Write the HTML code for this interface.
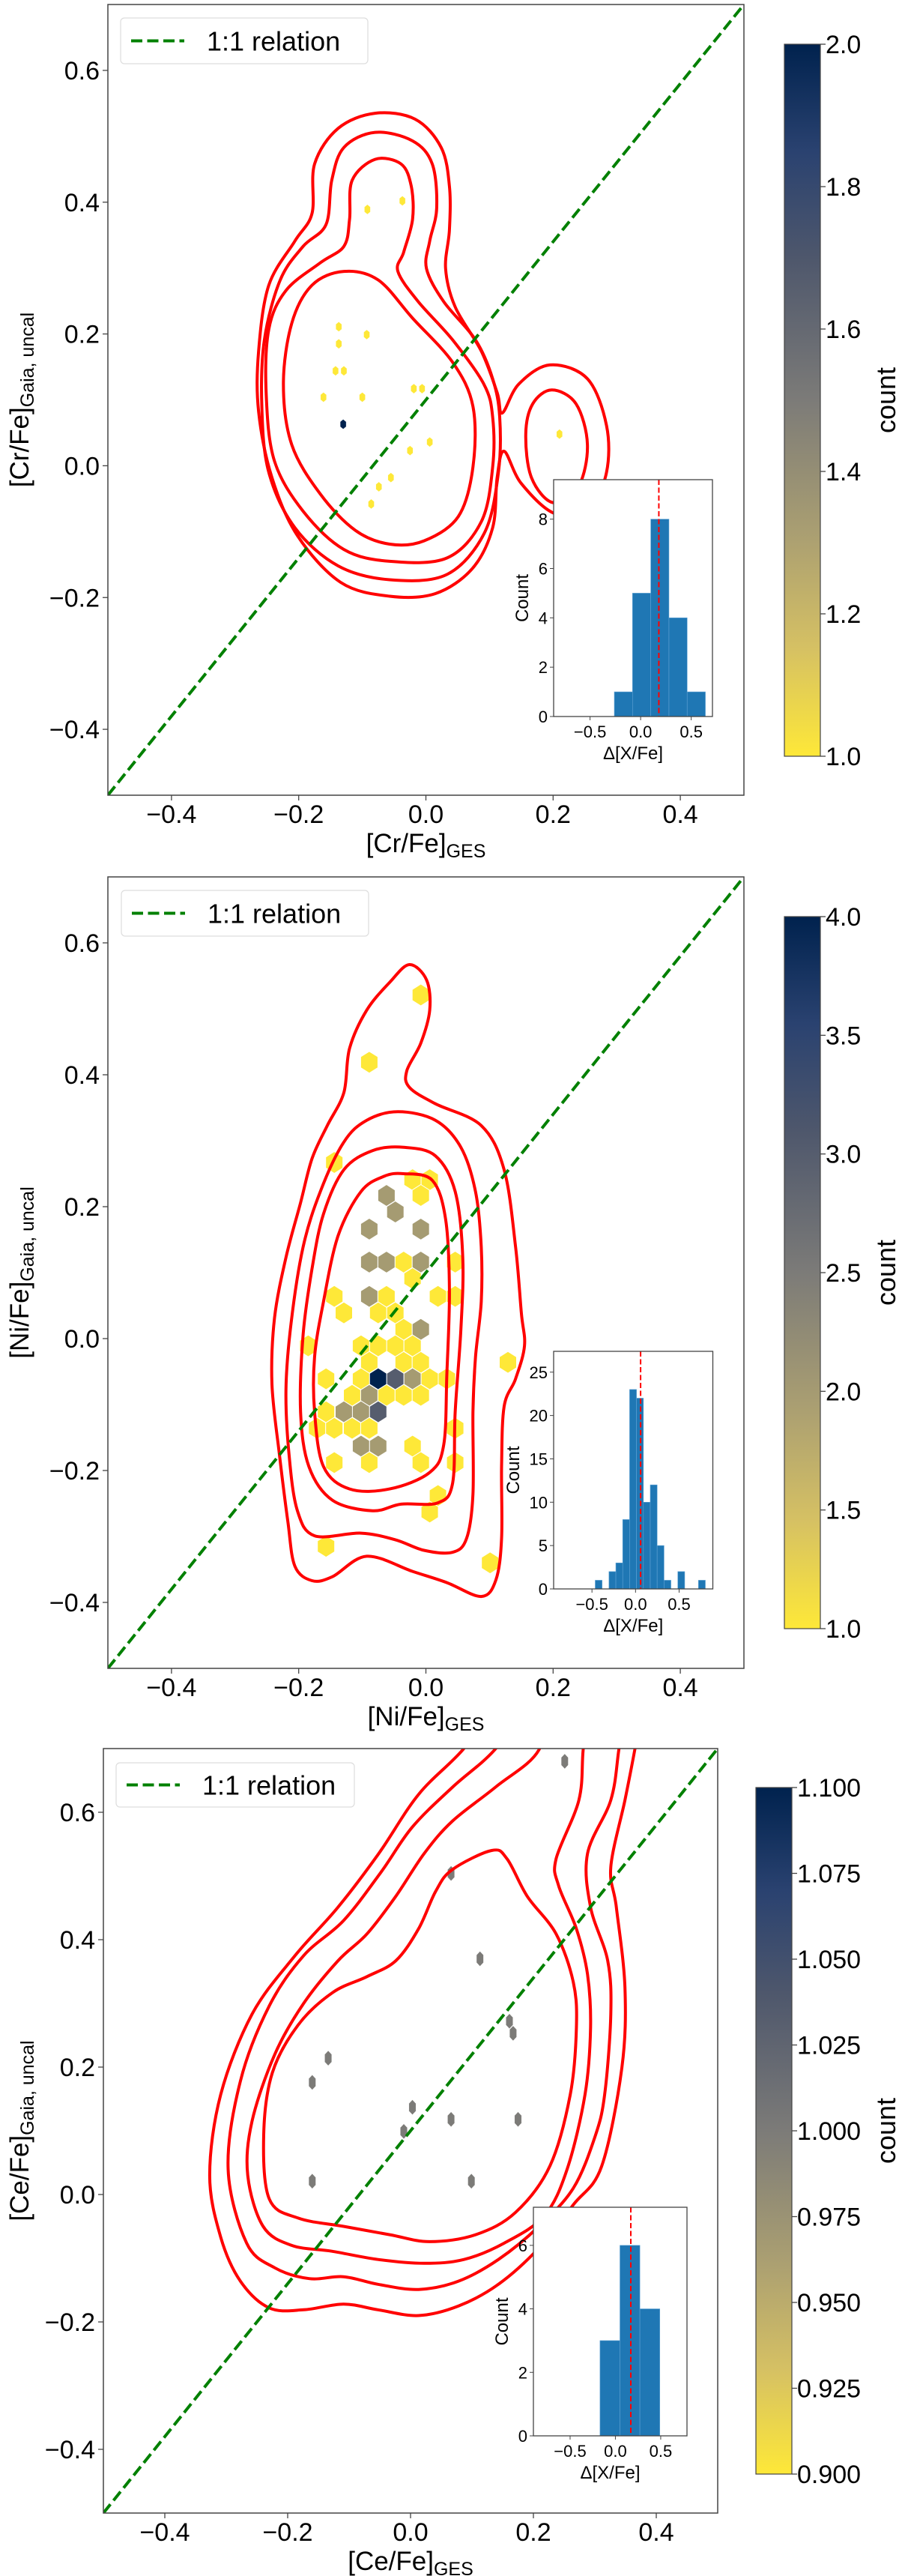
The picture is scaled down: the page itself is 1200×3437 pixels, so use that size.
<!DOCTYPE html>
<html><head><meta charset="utf-8"><style>
html,body{margin:0;padding:0;background:#fff}
svg{display:block}
text{font-family:"Liberation Sans","DejaVu Sans",sans-serif;fill:#000}
</style></head><body>
<svg id="fig" xmlns="http://www.w3.org/2000/svg" width="1200" height="3437" viewBox="0 0 1200 3437">
<defs>
<linearGradient id="cbgrad" x1="0" y1="0" x2="0" y2="1">
<stop offset="0" stop-color="#00224e"/><stop offset="0.15" stop-color="#2a4270"/><stop offset="0.3" stop-color="#4e576c"/><stop offset="0.5" stop-color="#7c7b78"/><stop offset="0.7" stop-color="#ada171"/><stop offset="0.85" stop-color="#d6c163"/><stop offset="1" stop-color="#fee838"/>
</linearGradient>
</defs>
</svg>
<script>
// ---------- Panel 1 data: [Cr/Fe] ----------
const p1HexX=[-0.092,-0.037,-0.137,-0.137,-0.093,-0.142,-0.129,-0.161,-0.100,-0.019,-0.006,-0.130,0.006,-0.025,-0.055,-0.074,-0.086,0.210];
const p1HexY=[0.389,0.402,0.211,0.185,0.199,0.144,0.144,0.104,0.104,0.117,0.117,0.063,0.036,0.023,-0.018,-0.032,-0.058,0.048];
const p1HexCount=[1,1,1,1,1,1,1,1,1,1,1,2,1,1,1,1,1,1];
const p1ContourA=[[-0.080,0.535],[-0.017,0.526],[0.024,0.483],[0.037,0.424],[0.037,0.358],[0.031,0.299],[0.046,0.241],[0.087,0.174],[0.112,0.111],[0.120,0.080],[0.146,0.124],[0.195,0.153],[0.254,0.132],[0.284,0.061],[0.284,-0.010],[0.258,-0.060],[0.204,-0.073],[0.150,-0.027],[0.123,0.022],[0.112,-0.018],[0.105,-0.094],[0.073,-0.156],[0.015,-0.194],[-0.057,-0.198],[-0.134,-0.177],[-0.202,-0.106],[-0.242,-0.018],[-0.263,0.082],[-0.263,0.174],[-0.247,0.274],[-0.206,0.341],[-0.179,0.383],[-0.175,0.458],[-0.138,0.512]];
const p1ContourB=[[-0.080,0.506],[-0.021,0.493],[0.010,0.458],[0.017,0.391],[0.006,0.341],[0.001,0.299],[0.028,0.249],[0.078,0.191],[0.105,0.132],[0.116,0.074],[0.114,-0.010],[0.092,-0.102],[0.033,-0.165],[-0.057,-0.173],[-0.138,-0.152],[-0.206,-0.094],[-0.247,-0.010],[-0.258,0.090],[-0.254,0.191],[-0.229,0.282],[-0.193,0.333],[-0.157,0.366],[-0.148,0.433],[-0.129,0.483]];
const p1ContourB2=[[0.198,0.115],[0.236,0.094],[0.254,0.032],[0.240,-0.031],[0.200,-0.056],[0.166,-0.018],[0.157,0.048],[0.168,0.094]];
const p1ContourC=[[-0.080,0.465],[-0.039,0.458],[-0.023,0.424],[-0.021,0.374],[-0.035,0.324],[-0.044,0.295],[-0.012,0.249],[0.042,0.191],[0.091,0.124],[0.105,0.074],[0.105,-0.002],[0.087,-0.085],[0.033,-0.140],[-0.057,-0.145],[-0.129,-0.127],[-0.193,-0.069],[-0.238,0.007],[-0.251,0.107],[-0.247,0.207],[-0.220,0.266],[-0.166,0.308],[-0.129,0.333],[-0.120,0.374],[-0.116,0.433]];
const p1ContourD=[[-0.129,0.295],[-0.075,0.282],[-0.021,0.224],[0.042,0.157],[0.074,0.090],[0.074,-0.002],[0.051,-0.077],[-0.003,-0.114],[-0.057,-0.119],[-0.111,-0.098],[-0.166,-0.043],[-0.211,0.032],[-0.224,0.124],[-0.211,0.216],[-0.179,0.274]];
const p1HistEdges=[-0.26,-0.08,0.10,0.28,0.46,0.64];
const p1HistCounts=[1,5,8,4,1];
const p1Median=0.18;
const p1CbTicks=["1.0","1.2","1.4","1.6","1.8","2.0"];
const p1InsetYTicks=[0,2,4,6,8];

// ---------- Panel 2 data: [Ni/Fe] ----------
const p2HexX=[-0.008,-0.089,-0.144,-0.021,0.006,-0.008,-0.062,-0.048,-0.089,-0.008,-0.089,-0.062,-0.035,-0.008,0.046,-0.021,-0.144,-0.089,-0.062,0.019,0.046,-0.129,-0.075,-0.048,-0.035,-0.008,-0.185,-0.102,-0.075,-0.048,-0.021,0.129,-0.089,-0.035,-0.008,-0.157,-0.102,-0.075,-0.048,-0.021,0.006,0.033,-0.116,-0.089,-0.062,-0.035,-0.008,-0.157,-0.129,-0.102,-0.075,-0.171,-0.144,-0.116,-0.089,0.046,-0.102,-0.075,-0.021,-0.144,-0.089,-0.008,0.046,0.019,0.006,-0.157,0.101];
const p2HexY=[0.521,0.419,0.267,0.241,0.241,0.217,0.217,0.192,0.166,0.166,0.116,0.116,0.116,0.116,0.116,0.091,0.064,0.064,0.064,0.064,0.064,0.039,0.039,0.039,0.014,0.014,-0.011,-0.011,-0.011,-0.011,-0.011,-0.036,-0.036,-0.036,-0.036,-0.061,-0.061,-0.061,-0.061,-0.061,-0.061,-0.061,-0.086,-0.086,-0.086,-0.086,-0.086,-0.111,-0.111,-0.111,-0.111,-0.136,-0.136,-0.136,-0.136,-0.136,-0.163,-0.163,-0.163,-0.188,-0.188,-0.188,-0.188,-0.238,-0.263,-0.315,-0.340];
const p2HexCount=[1,1,1,1,1,1,2,2,2,2,2,2,1,2,1,1,1,2,1,1,1,1,1,1,1,2,1,1,1,1,1,1,1,1,1,1,1,4,3,2,1,1,1,2,1,1,1,1,2,2,3,1,1,1,1,1,2,2,1,1,1,1,1,1,1,1,1];
const p2ContourA=[[-0.026,0.567],[0.001,0.544],[0.006,0.498],[-0.008,0.448],[-0.030,0.406],[-0.026,0.381],[0.015,0.356],[0.087,0.323],[0.123,0.256],[0.141,0.139],[0.150,0.039],[0.155,-0.011],[0.141,-0.061],[0.123,-0.103],[0.119,-0.194],[0.119,-0.303],[0.110,-0.366],[0.087,-0.391],[0.033,-0.370],[-0.021,-0.353],[-0.093,-0.330],[-0.147,-0.361],[-0.179,-0.367],[-0.206,-0.345],[-0.217,-0.278],[-0.230,-0.178],[-0.242,-0.069],[-0.238,0.031],[-0.220,0.123],[-0.197,0.206],[-0.179,0.273],[-0.155,0.323],[-0.129,0.373],[-0.120,0.440],[-0.093,0.498],[-0.057,0.540]];
const p2ContourB=[[-0.044,0.344],[0.015,0.331],[0.055,0.290],[0.078,0.223],[0.087,0.139],[0.087,0.056],[0.078,-0.028],[0.074,-0.111],[0.074,-0.236],[0.064,-0.303],[0.042,-0.324],[-0.003,-0.321],[-0.048,-0.305],[-0.102,-0.295],[-0.175,-0.299],[-0.202,-0.261],[-0.215,-0.178],[-0.220,-0.078],[-0.212,0.023],[-0.193,0.139],[-0.166,0.223],[-0.129,0.298],[-0.093,0.331]];
const p2ContourC=[[-0.035,0.290],[0.015,0.277],[0.046,0.223],[0.058,0.123],[0.055,0.014],[0.046,-0.111],[0.042,-0.219],[0.019,-0.249],[-0.039,-0.251],[-0.084,-0.261],[-0.147,-0.245],[-0.184,-0.194],[-0.197,-0.111],[-0.193,0.006],[-0.179,0.106],[-0.161,0.189],[-0.129,0.256],[-0.084,0.285]];
const p2ContourD=[[-0.035,0.250],[0.010,0.240],[0.031,0.181],[0.037,0.073],[0.033,-0.053],[0.028,-0.161],[0.006,-0.203],[-0.057,-0.228],[-0.120,-0.228],[-0.161,-0.194],[-0.175,-0.111],[-0.175,-0.028],[-0.161,0.056],[-0.138,0.156],[-0.102,0.223],[-0.066,0.246]];
const p2HistStart=-0.463;
const p2HistWidth=0.079;
const p2HistCounts=[1,0,2,3,8,23,22,10,12,5,1,0,2,0,0,1];
const p2Median=0.058;
const p2CbTicks=["1.0","1.5","2.0","2.5","3.0","3.5","4.0"];
const p2InsetYTicks=[0,5,10,15,20,25];

// ---------- Panel 3 data: [Ce/Fe] ----------
const p3HexX=[0.251,0.066,0.113,0.161,0.167,-0.134,-0.160,0.003,-0.011,0.066,0.175,-0.160,0.099];
const p3HexY=[0.680,0.504,0.370,0.272,0.253,0.214,0.176,0.137,0.099,0.118,0.118,0.021,0.021];
const p3HexCount=[1,1,1,1,1,1,1,1,1,1,1,1,1];
const p3ContourA=[[0.085,0.698],[0.013,0.628],[-0.052,0.535],[-0.118,0.451],[-0.188,0.375],[-0.258,0.283],[-0.309,0.157],[-0.327,0.030],[-0.309,-0.067],[-0.277,-0.136],[-0.230,-0.178],[-0.174,-0.181],[-0.109,-0.172],[-0.053,-0.181],[0.013,-0.190],[0.078,-0.175],[0.143,-0.141],[0.209,-0.084],[0.265,-0.016],[0.311,0.044],[0.344,0.199],[0.349,0.325],[0.335,0.451],[0.326,0.514],[0.349,0.619],[0.365,0.698],[0.38,0.78],[0.15,0.78]];
const p3ContourB=[[0.137,0.698],[0.069,0.640],[0.003,0.577],[-0.048,0.506],[-0.109,0.430],[-0.174,0.375],[-0.230,0.296],[-0.277,0.178],[-0.297,0.040],[-0.267,-0.076],[-0.221,-0.115],[-0.165,-0.132],[-0.109,-0.129],[-0.053,-0.141],[0.013,-0.149],[0.078,-0.136],[0.143,-0.102],[0.209,-0.050],[0.265,0.010],[0.300,0.090],[0.316,0.157],[0.326,0.283],[0.321,0.367],[0.293,0.451],[0.288,0.535],[0.326,0.619],[0.339,0.698],[0.35,0.78],[0.2,0.78]];
const p3ContourC=[[0.209,0.698],[0.139,0.640],[0.068,0.586],[0.022,0.535],[-0.024,0.468],[-0.071,0.409],[-0.118,0.367],[-0.174,0.300],[-0.221,0.220],[-0.258,0.115],[-0.265,0.030],[-0.240,-0.050],[-0.193,-0.080],[-0.128,-0.089],[-0.053,-0.102],[0.022,-0.108],[0.087,-0.102],[0.153,-0.076],[0.218,-0.033],[0.255,0.040],[0.284,0.157],[0.293,0.262],[0.288,0.346],[0.270,0.417],[0.241,0.485],[0.237,0.527],[0.274,0.619],[0.281,0.698],[0.29,0.78],[0.22,0.78]];
const p3ContourD=[[0.132,0.540],[0.157,0.527],[0.190,0.468],[0.237,0.409],[0.265,0.333],[0.270,0.262],[0.260,0.157],[0.227,0.045],[0.171,-0.028],[0.106,-0.063],[0.031,-0.074],[-0.034,-0.063],[-0.109,-0.050],[-0.183,-0.037],[-0.230,-0.007],[-0.239,0.094],[-0.225,0.191],[-0.183,0.266],[-0.127,0.317],[-0.071,0.342],[-0.024,0.367],[0.013,0.417],[0.041,0.476],[0.068,0.510]];
const p3HistEdges=[-0.17,0.05,0.27,0.49];
const p3HistCounts=[3,6,4];
const p3Median=0.17;
const p3CbTicks=["0.900","0.925","0.950","0.975","1.000","1.025","1.050","1.075","1.100"];
const p3InsetYTicks=[0,2,4,6];

const mainXTicks=[-0.4,-0.2,0.0,0.2,0.4];
const mainYTicks=[-0.4,-0.2,0.0,0.2,0.4,0.6];
const insetXTicks=[-0.5,0.0,0.5];
const diagStart=[-0.5,-0.5];
const diagEnd=[0.5,0.7];

const NS="http://www.w3.org/2000/svg";
const svg=document.getElementById('fig');
function mk(tag,attrs,parent){const e=document.createElementNS(NS,tag);for(const k in attrs)e.setAttribute(k,attrs[k]);(parent||svg).appendChild(e);return e;}
function fmt(v){const s=Math.abs(v).toFixed(1);return (v<-1e-9?'\u2212':'')+s;}
const stops=[[0,[0,34,78]],[0.15,[42,66,112]],[0.3,[78,87,108]],[0.5,[124,123,120]],[0.7,[173,161,113]],[0.85,[214,193,99]],[1,[254,232,56]]];
function cividisR(v){
  const t=1-Math.max(0,Math.min(1,v));
  for(let i=1;i<stops.length;i++){if(t<=stops[i][0]){const a=stops[i-1],b=stops[i];const f=(t-a[0])/(b[0]-a[0]);const c=a[1].map((x,j)=>Math.round(x+(b[1][j]-x)*f));return 'rgb('+c.join(',')+')';}}
  return 'rgb(0,34,78)';
}
function spline(pts){
  const n=pts.length;let d='M'+pts[0][0].toFixed(1)+','+pts[0][1].toFixed(1);
  for(let i=0;i<n;i++){const p0=pts[(i-1+n)%n],p1=pts[i],p2=pts[(i+1)%n],p3=pts[(i+2)%n];
    const c1=[p1[0]+(p2[0]-p0[0])/6,p1[1]+(p2[1]-p0[1])/6],c2=[p2[0]-(p3[0]-p1[0])/6,p2[1]-(p3[1]-p1[1])/6];
    d+='C'+c1[0].toFixed(1)+','+c1[1].toFixed(1)+' '+c2[0].toFixed(1)+','+c2[1].toFixed(1)+' '+p2[0].toFixed(1)+','+p2[1].toFixed(1);}
  return d+'Z';
}

function panel(cfg){
  const {id,L,R,T,B,hx,hy,hc,cmin,cmax,contours,hw,hr,elem,cb,cbTicks,legend,inset}=cfg;
  const sx=x=>L+(x+0.5)/1.0*(R-L), sy=y=>B-(y+0.5)/1.2*(B-T);
  const g=mk('g',{});  
  const cp=mk('clipPath',{id:id+'clip'},g);
  mk('rect',{x:L,y:T,width:R-L,height:B-T},cp);
  const plot=mk('g',{'clip-path':'url(#'+id+'clip)'},g);
   
  for(let i=0;i<hx.length;i++){const cx=sx(hx[i]),cy=sy(hy[i]);
    const pts=[[0,-hr],[hw,-hr/2],[hw,hr/2],[0,hr],[-hw,hr/2],[-hw,-hr/2]].map(p=>(cx+p[0]).toFixed(1)+','+(cy+p[1]).toFixed(1)).join(' ');
    const h=mk('polygon',{points:pts,fill:cividisR((hc[i]-cmin)/(cmax-cmin)),stroke:'#ffffff','stroke-width':hw>8?1:0.4},plot);
     }
  contours.forEach((c,ci)=>{const p=mk('path',{d:spline(c.map(q=>[sx(q[0]),sy(q[1])])),fill:'none',stroke:'#ff0000','stroke-width':4},plot);
     });
  const dl=mk('line',{x1:sx(diagStart[0]),y1:sy(diagStart[1]),x2:sx(diagEnd[0]),y2:sy(diagEnd[1]),stroke:'#008000','stroke-width':4,'stroke-dasharray':'15,6.5'},plot);
   
  const fr=mk('rect',{x:L,y:T,width:R-L,height:B-T,fill:'none',stroke:'#444','stroke-width':1.5},g);
   
  mainXTicks.forEach(v=>{const x=sx(v);mk('line',{x1:x,y1:B,x2:x,y2:B+7,stroke:'#444','stroke-width':1.3},g);
    const t=mk('text',{x:x,y:B+37,'font-size':34,'text-anchor':'middle'},g);t.textContent=fmt(v);
     });
  mainYTicks.forEach(v=>{const y=sy(v);mk('line',{x1:L-7,y1:y,x2:L,y2:y,stroke:'#444','stroke-width':1.3},g);
    const t=mk('text',{x:L-11,y:y+12,'font-size':34,'text-anchor':'end'},g);t.textContent=fmt(v);
     });
  const xl=mk('text',{x:(L+R)/2,y:B+76,'font-size':35,'text-anchor':'middle'},g);
  xl.innerHTML='['+elem+'/Fe]<tspan font-size="25" dy="7">GES</tspan>';
   
  const yc=(T+B)/2;
  const yl=mk('text',{x:38,y:yc,'font-size':35,'text-anchor':'middle',transform:'rotate(-90 38 '+yc+')'},g);
  yl.innerHTML='['+elem+'/Fe]<tspan font-size="25" dy="7">Gaia, uncal</tspan>';
   
  const lg=mk('g',{},g);  
  mk('rect',{x:legend[0],y:legend[1],width:legend[2],height:legend[3],rx:5,fill:'#fff','fill-opacity':0.8,stroke:'#dddddd','stroke-width':1.2},lg);
  const ly=legend[1]+legend[3]/2;
  mk('line',{x1:legend[0]+14,y1:ly,x2:legend[0]+85,y2:ly,stroke:'#008000','stroke-width':4,'stroke-dasharray':'15,6.5'},lg);
  const lt=mk('text',{x:legend[0]+115,y:ly+13,'font-size':36},lg); lt.textContent='1:1 relation';
   
  const cbg=mk('g',{},g);  
  mk('rect',{x:cb[0],y:cb[1],width:cb[2],height:cb[3],fill:'url(#cbgrad)',stroke:'#444','stroke-width':1.2},cbg);
  cbTicks.forEach((s,i)=>{const y=cb[1]+cb[3]-i*cb[3]/(cbTicks.length-1);
    mk('line',{x1:cb[0]+cb[2],y1:y,x2:cb[0]+cb[2]+7,y2:y,stroke:'#444','stroke-width':1.3},cbg);
    const t=mk('text',{x:cb[0]+cb[2]+7,y:y+12,'font-size':34},cbg);t.textContent=s;
     });
  const cyc=cb[1]+cb[3]/2;
  const cl=mk('text',{x:1195,y:cyc,'font-size':36,'text-anchor':'middle',transform:'rotate(-90 1195 '+cyc+')'},cbg); cl.textContent='count';
   
  const I=inset; const ig=mk('g',{},g);  
  const ix=v=>I.L+(v-I.xmin)/(I.xmax-I.xmin)*(I.R-I.L), iy=v=>I.B-v/I.ymax*(I.B-I.T);
  mk('rect',{x:I.L,y:I.T,width:I.R-I.L,height:I.B-I.T,fill:'#fff'},ig);
  I.counts.forEach((c,i)=>{if(c<=0)return;const x0=ix(I.edges[i]),x1=ix(I.edges[i+1]);
    const b=mk('rect',{x:x0,y:iy(c),width:x1-x0,height:I.B-iy(c),fill:'#1f77b4',stroke:'#5fa2d4','stroke-width':0.6},ig);
     });
  const ml=mk('line',{x1:ix(I.median),y1:I.T,x2:ix(I.median),y2:I.B,stroke:'#ff0000','stroke-width':2,'stroke-dasharray':'7,3.5'},ig);
   
  mk('rect',{x:I.L,y:I.T,width:I.R-I.L,height:I.B-I.T,fill:'none',stroke:'#444','stroke-width':1.3},ig);
  insetXTicks.forEach(v=>{const x=ix(v);mk('line',{x1:x,y1:I.B,x2:x,y2:I.B+5,stroke:'#444','stroke-width':1},ig);
    const t=mk('text',{x:x,y:I.B+28,'font-size':22,'text-anchor':'middle'},ig);t.textContent=fmt(v);
     });
  I.yticks.forEach(v=>{const y=iy(v);mk('line',{x1:I.L-5,y1:y,x2:I.L,y2:y,stroke:'#444','stroke-width':1},ig);
    const t=mk('text',{x:I.L-8,y:y+8,'font-size':22,'text-anchor':'end'},ig);t.textContent=String(v);
     });
  const ixl=mk('text',{x:(I.L+I.R)/2,y:I.B+57,'font-size':24,'text-anchor':'middle'},ig); ixl.textContent='\u0394[X/Fe]';
   
  const iyc=(I.T+I.B)/2, iyx=I.L-I.ylabOff;
  const iyl=mk('text',{x:iyx,y:iyc,'font-size':24,'text-anchor':'middle',transform:'rotate(-90 '+iyx+' '+iyc+')'},ig); iyl.textContent='Count';
   
}

function edgesFrom(start,w,n){const e=[];for(let i=0;i<=n;i++)e.push(start+i*w);return e;}

panel({id:'cr',L:144,R:993,T:6,B:1061,hx:p1HexX,hy:p1HexY,hc:p1HexCount,cmin:1,cmax:2,hw:4,hr:6.5,elem:'Cr',
  contours:[p1ContourA,p1ContourB,p1ContourB2,p1ContourC,p1ContourD],
  cb:[1047,59,48,950],cbTicks:p1CbTicks,legend:[161,24,330,61],
  inset:{L:739,R:951,T:640,B:956,xmin:-0.86,xmax:0.71,ymax:9.6,edges:p1HistEdges,counts:p1HistCounts,median:p1Median,yticks:p1InsetYTicks,ylabOff:34}});
panel({id:'ni',L:144,R:993,T:1170,B:2226,hx:p2HexX,hy:p2HexY,hc:p2HexCount,cmin:1,cmax:4,hw:11.5,hr:14.5,elem:'Ni',
  contours:[p2ContourA,p2ContourB,p2ContourC,p2ContourD],
  cb:[1047,1223,48,950],cbTicks:p2CbTicks,legend:[162,1188,330,61],
  inset:{L:739,R:951.5,T:1803,B:2120,xmin:-0.94,xmax:0.887,ymax:27.4,edges:edgesFrom(p2HistStart,p2HistWidth,p2HistCounts.length),counts:p2HistCounts,median:p2Median,yticks:p2InsetYTicks,ylabOff:46}});
panel({id:'ce',L:138,R:958,T:2333,B:3353,hx:p3HexX,hy:p3HexY,hc:p3HexCount,cmin:0.9,cmax:1.1,hw:4.7,hr:10,elem:'Ce',
  contours:[p3ContourA,p3ContourB,p3ContourC,p3ContourD],
  cb:[1009,2385,48,916],cbTicks:p3CbTicks,legend:[155,2352,318,59],
  inset:{L:712,R:917,T:2945,B:3250,xmin:-0.905,xmax:0.79,ymax:7.2,edges:p3HistEdges,counts:p3HistCounts,median:p3Median,yticks:p3InsetYTicks,ylabOff:34}});
</script>
</body></html>
